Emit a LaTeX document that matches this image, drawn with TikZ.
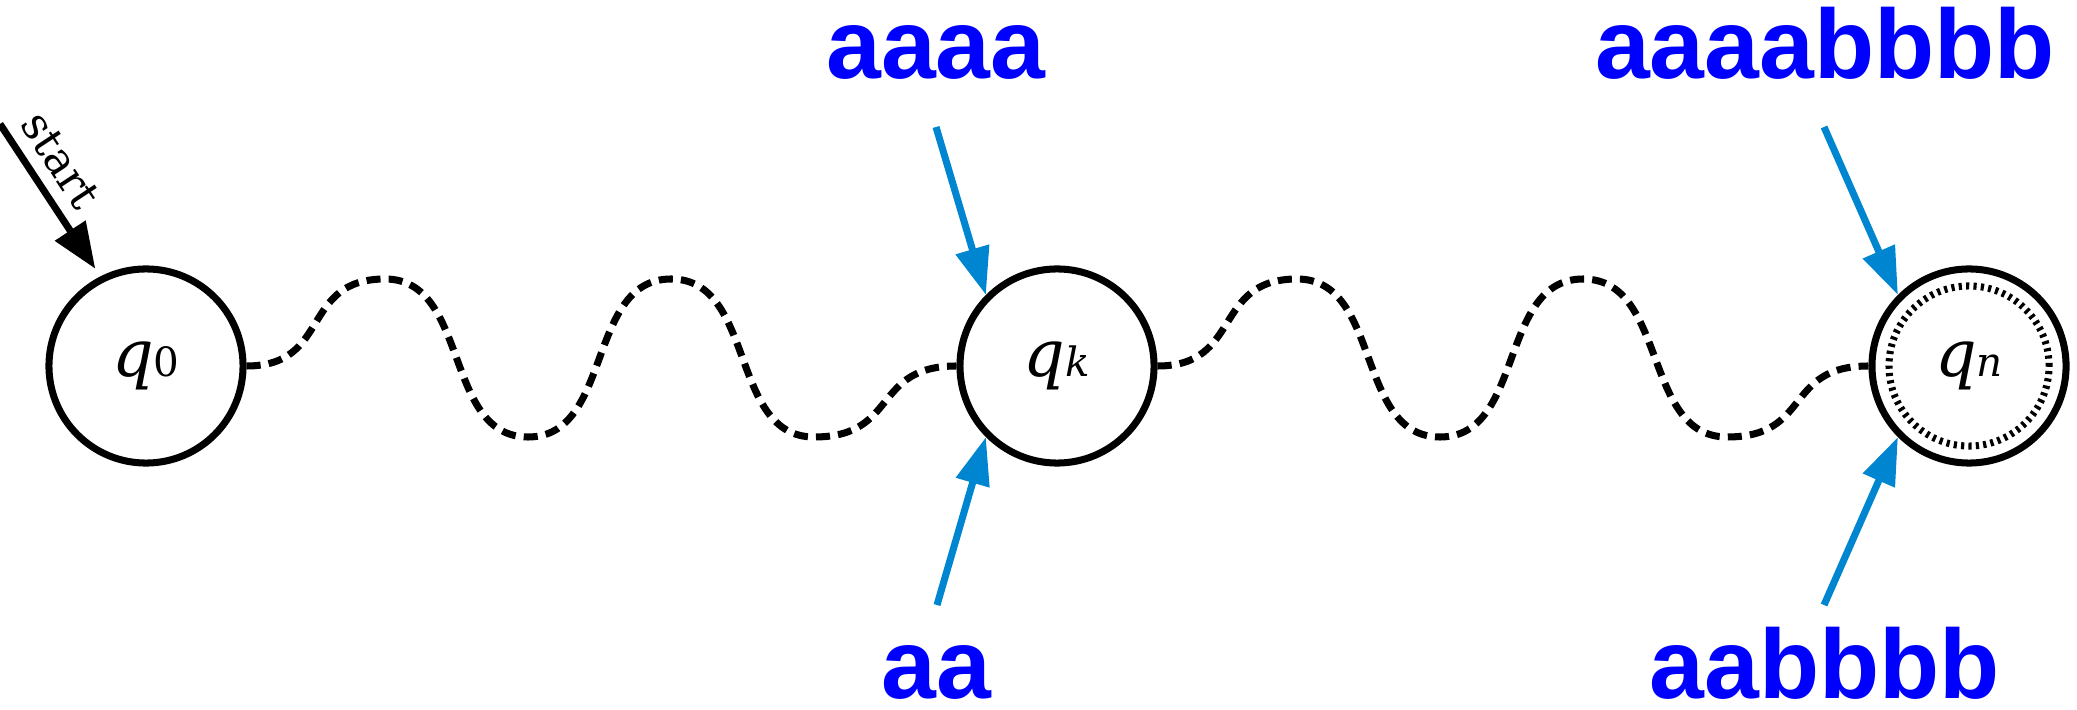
\documentclass[tikz,border=0pt]{standalone}
\usepackage{fontspec}
\setmainfont{DejaVu Serif}
\newfontfamily\wordfont{Liberation Sans}
\usetikzlibrary{arrows.meta}
\definecolor{arrowblue}{RGB}{0,133,209}
\newcommand{\stname}[2]{{\itshape #1}{\fontsize{11.5}{11.5}\selectfont #2}}

\begin{document}
\begin{tikzpicture}[x=0.01cm, y=-0.01cm,
    state/.style={circle, draw, line width=2pt, minimum size=1.94cm, inner sep=0pt,
      font=\fontsize{18.5}{18.5}\selectfont},
    wavy/.style={line width=2pt, dash pattern=on 4pt off 2.3pt},
    ring/.style={line width=2pt, dash pattern=on 0.9pt off 1.2pt},
    word/.style={text=blue, inner sep=0pt,
      font=\wordfont\bfseries\fontsize{28}{28}\selectfont},
    feed/.style={arrowblue, line width=2pt, -{Triangle[length=13.5pt, width=9.5pt]}}]
  \useasboundingbox (0,0) rectangle (2077,710);

  \node[state] (q0) at (146,366) {\stname{q}{0}};
  \node[state] (qk) at (1057,366) {\stname{q}{\itshape k}};
  \node[state] (qn) at (1969,366) {\stname{q}{\itshape n}};
  \draw[ring] (qn.center) circle[radius=0.8cm];

  \coordinate (s0) at (0,124);
  \draw[line width=2pt, -{Triangle[length=13pt, width=10pt]}, shorten >=2.6pt] (s0) -- (q0.117)
    node[pos=0.35, above, sloped, font=\fontsize{12.5}{12.5}\selectfont] {start};

  \draw[wavy] (q0.east) .. controls +(85,0) and +(-85,0) .. (385,279)
    .. controls +(85,0) and +(-85,0) .. (528,437)
    .. controls +(85,0) and +(-85,0) .. (671,279)
    .. controls +(85,0) and +(-85,0) .. (814,437)
    .. controls +(85,0) and +(-85,0) .. (qk.west);
  \draw[wavy] (qk.east) .. controls +(85,0) and +(-85,0) .. (1297,279)
    .. controls +(85,0) and +(-85,0) .. (1440,437)
    .. controls +(85,0) and +(-85,0) .. (1583,279)
    .. controls +(85,0) and +(-85,0) .. (1727,437)
    .. controls +(85,0) and +(-85,0) .. (qn.west);

  \node[word, anchor=base] (wk1) at (936,79) {aaaa};
  \node[word, anchor=base] (wk2) at (936,698) {aa};
  \node[word, anchor=base] (wn1) at (1825,79) {aaaabbbb};
  \node[word, anchor=base] (wn2) at (1825,698) {aabbbb};

  \coordinate (fk1) at (936,127);
  \coordinate (fk2) at (937,605);
  \coordinate (fn1) at (1824,127);
  \coordinate (fn2) at (1824,605);
  \draw[feed] (fk1) -- (qk.135);
  \draw[feed] (fk2) -- (qk.225);
  \draw[feed] (fn1) -- (qn.135);
  \draw[feed] (fn2) -- (qn.225);
\end{tikzpicture}
\end{document}
